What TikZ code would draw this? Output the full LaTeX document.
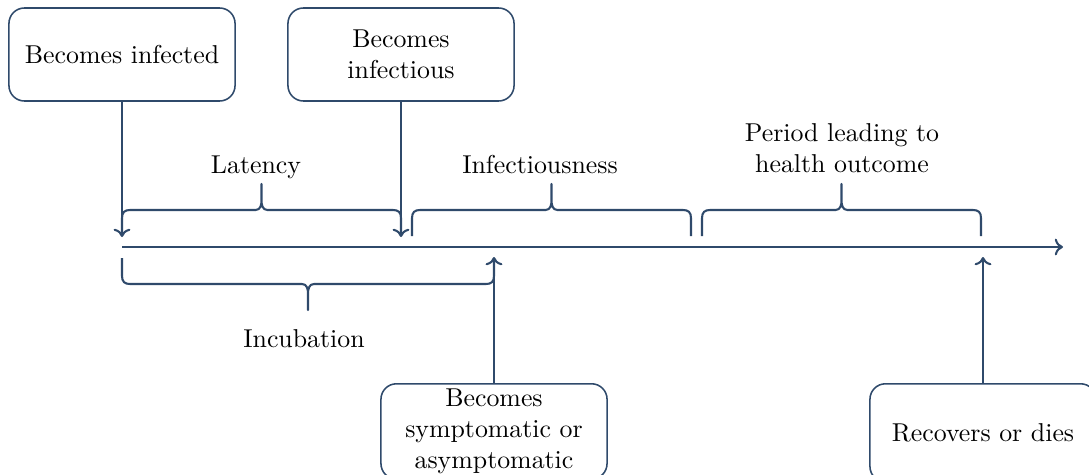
\documentclass[tikz,border=0pt]{standalone}
\usetikzlibrary{arrows.meta}
\definecolor{lineblue}{HTML}{2F4A6B}
\tikzset{
  event/.style={draw=lineblue, line width=0.6pt, rounded corners=6pt,
    minimum width=87.5pt, minimum height=36pt, align=center, inner sep=2pt},
  axisline/.style={draw=lineblue, line width=0.8pt, -{To[length=3.2pt,width=6.5pt]}},
  pointer/.style={draw=lineblue, line width=0.8pt, -{To[length=3.2pt,width=6.5pt]}},
  span/.style={draw=lineblue, line width=0.8pt, line join=round},
  spanlabel/.style={anchor=base, inner sep=0pt},
}
% Curly brace along the timeline: #1,#2 = ends, #3 = y of the legs, #4 = -1 (opens down) or 1 (opens up)
\newcommand\timebrace[4]{%
  \pgfmathsetmacro\tbhalf{(#2-#1)/2-14}%
  \pgfmathsetmacro\tbs{#4}%
  \pgfmathsetmacro\tbn{-(#4)}%
  \draw[span] (#1,#3) -- ++(0,\tbs*18)
    .. controls +(0,\tbs*6) and +(-5,0) .. ++(8,\tbs*8)
    -- ++(\tbhalf,0)
    .. controls +(5,0) and +(0,\tbn*5) .. ++(6,\tbs*10)
    -- ++(0,\tbs*16) -- ++(0,\tbn*16)
    .. controls +(0,\tbn*5) and +(-5,0) .. ++(6,\tbn*10)
    -- ++(\tbhalf,0)
    .. controls +(5,0) and +(0,\tbs*6) .. ++(8,\tbn*8)
    -- ++(0,\tbn*18);}
\begin{document}
\begin{tikzpicture}[x=0.387pt,y=-0.387pt]
  \useasboundingbox (0,0) rectangle (1089,474);

  % events
  \node[event] (infected) at (122,54.5) {Becomes infected};
  \node[event] (infectious) at (401,54.5) {Becomes\\infectious};
  \node[event, anchor=north] (symptoms) at (494,383) {Becomes\\symptomatic or\\asymptomatic};
  \node[event, anchor=north, minimum height=38pt] (outcome) at (983,383) {Recovers or dies};

  % timeline
  \coordinate (tstart) at (122,247);
  \coordinate (tend) at (1063,247);
  \draw[axisline] (tstart) -- (tend);

  % event markers
  \coordinate (infectedMark) at (122,237);
  \coordinate (infectiousMark) at (401,237);
  \coordinate (symptomMark) at (494,257);
  \coordinate (outcomeMark) at (983,257);
  \draw[pointer] (infected) -- (infectedMark);
  \draw[pointer] (infectious) -- (infectiousMark);
  \draw[pointer] (symptoms) -- (symptomMark);
  \draw[pointer] (outcome) -- (outcomeMark);

  % periods
  \timebrace{122}{401}{236}{-1}
  \timebrace{412}{691}{236}{-1}
  \timebrace{702}{981}{236}{-1}
  \timebrace{122}{494}{258}{1}

  \node[spanlabel] (latency) at (256,173) {Latency};
  \node[spanlabel] (infectiousness) at (540,173) {Infectiousness};
  \node[align=center, anchor=north, inner sep=0pt] (healthperiod) at (842,123) {Period leading to\\health outcome};
  \node[spanlabel] (incubation) at (304,347) {Incubation};
\end{tikzpicture}
\end{document}
